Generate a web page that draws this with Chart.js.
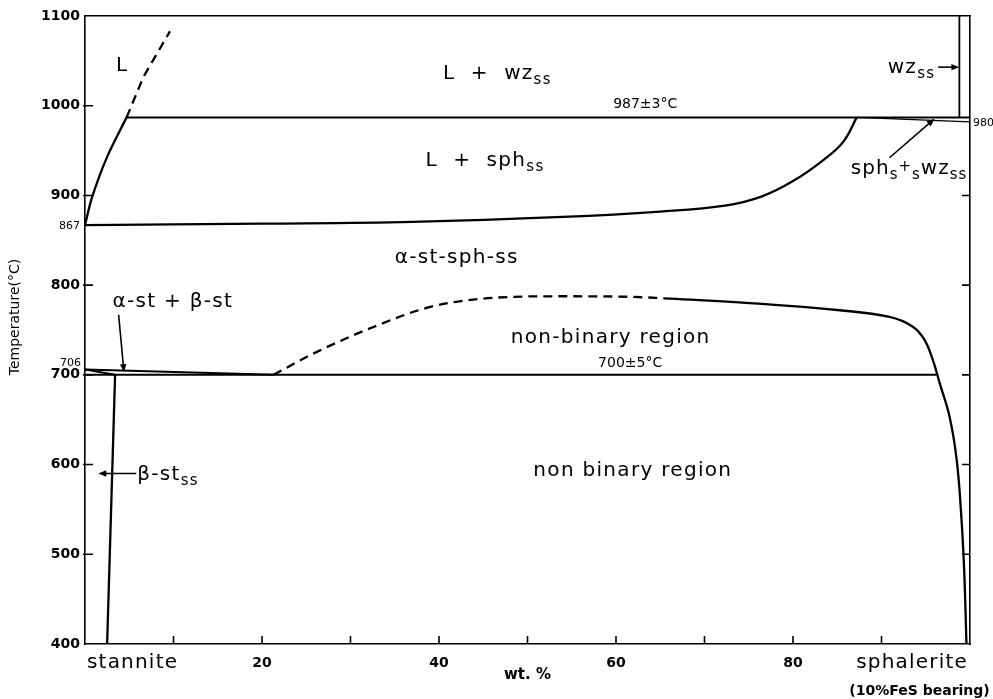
<!DOCTYPE html>
<html>
<head>
<meta charset="utf-8">
<script src="https://cdn.jsdelivr.net/npm/chart.js@4.4.1/dist/chart.umd.min.js"></script>
<style>
  html, body { margin: 0; padding: 0; background: #fff; }
  canvas { display: block; }
</style>
</head>
<body>
<canvas id="phase" width="993" height="699"></canvas>
<script>
/* ── stannite – sphalerite pseudo-binary section ─────────────────────────── */

// axis ranges / ticks
const X_MIN = 0, X_MAX = 100, X_STEP = 10;
const T_MIN = 400, T_MAX = 1100, T_STEP = 100;
const X_LABELLED = [20, 40, 60, 80];

// liquidus on the stannite side (solid, then dashed above the 987 line)
const liquidusX = [0, 0.8, 2.5, 4.7];
const liquidusT = [867, 898, 943, 987];
const liquidusExtX = [4.7, 6.6, 9.6];
const liquidusExtT = [987, 1032, 1083];

// 987 ±3 °C horizontal
const iso987X = [4.7, 100];
const iso987T = [987, 987];

// lower boundary of L + sph_ss
const sphSolidusX = [0, 20, 37, 54, 65, 72.5, 76.5, 80, 83.5, 85.7, 87.2];
const sphSolidusT = [867, 868.5, 870.5, 876, 882, 889, 899, 916, 940, 960, 987];

// wz_ss boundary and sph_ss + wz_ss wedge
const wzBoundX = [98.8, 98.8];
const wzBoundT = [987, 1100];
const sphWzX = [87.2, 100];
const sphWzT = [987, 982];

// alpha-st-sph-ss / non-binary region boundary
const alphaDashX = [21.3, 25.8, 32.6, 39, 45, 54, 61.6, 66.1];
const alphaDashT = [700, 723.7, 753.4, 775.7, 785, 787.6, 787, 785];
const alphaSolidX = [66.1, 75.1, 85.3, 90.9, 93.5, 94.8, 95.75, 96.6, 97.7, 98.5, 99, 99.35, 99.6];
const alphaSolidT = [785, 780, 772, 764.6, 754, 740, 718, 690, 653, 605, 545, 480, 400];

// 700 ±5 °C horizontal and the alpha-st + beta-st wedge
const iso700X = [0, 96.2];
const iso700T = [700, 700];
const abUpperX = [0, 21.3];
const abUpperT = [706, 700];
const abLowerX = [0, 3.4];
const abLowerT = [706, 700];

// beta-st_ss limit
const betaX = [3.4, 2.5];
const betaT = [700, 400];

const FONT = '"DejaVu Sans", sans-serif';

function pts(xs, ts) { return xs.map((v, i) => ({ x: v, y: ts[i] })); }

function line(xs, ts, extra) {
  return Object.assign({
    data: pts(xs, ts), showLine: true, pointRadius: 0, borderColor: "#000",
    borderWidth: 2.3, fill: false, tension: 0, borderCapStyle: "butt"
  }, extra || {});
}

// ── text helpers ─────────────────────────────────────────────────────────────
// parts: [text, kind]  kind: 0 normal, 1 subscript, 2 small raised
function drawParts(ctx, parts, x, y, align, size, spacing) {
  const sub = Math.round(size * 0.75);
  const font = k => (k ? sub : size) + "px " + FONT;
  ctx.letterSpacing = spacing + "px";
  let w = 0;
  parts.forEach(([t, k]) => { ctx.font = font(k); w += ctx.measureText(t).width; });
  let cx = align === "center" ? x - w / 2 : align === "right" ? x - w : x;
  ctx.textAlign = "left";
  ctx.textBaseline = "middle";
  parts.forEach(([t, k]) => {
    ctx.font = font(k);
    const dy = k === 1 ? size * 0.32 : k === 2 ? -size * 0.05 : 0;
    ctx.fillText(t, cx, y + dy);
    cx += ctx.measureText(t).width;
  });
  ctx.letterSpacing = "0px";
}

function arrow(ctx, x1, y1, x2, y2) {
  const a = Math.atan2(y2 - y1, x2 - x1), h = 8, s = 3.2;
  ctx.beginPath();
  ctx.moveTo(x1, y1);
  ctx.lineTo(x2 - Math.cos(a) * h * 0.8, y2 - Math.sin(a) * h * 0.8);
  ctx.stroke();
  ctx.beginPath();
  ctx.moveTo(x2, y2);
  ctx.lineTo(x2 - Math.cos(a) * h + Math.sin(a) * s, y2 - Math.sin(a) * h - Math.cos(a) * s);
  ctx.lineTo(x2 - Math.cos(a) * h - Math.sin(a) * s, y2 - Math.sin(a) * h + Math.cos(a) * s);
  ctx.closePath();
  ctx.fill();
}

const overlay = {
  id: "overlay",
  afterDraw(chart) {
    const { ctx, chartArea: a, scales } = chart;
    const X = v => scales.x.getPixelForValue(v), Y = v => scales.y.getPixelForValue(v);
    ctx.save();
    ctx.fillStyle = "#000";
    ctx.strokeStyle = "#000";

    // inward tick marks
    ctx.lineWidth = 1.6;
    ctx.beginPath();
    scales.y.ticks.forEach(t => {
      if (t.value <= T_MIN || t.value >= T_MAX) return;
      ctx.moveTo(a.left - 2, Y(t.value)); ctx.lineTo(a.left + 8, Y(t.value));
      if (t.value < 1000) { ctx.moveTo(a.right - 8, Y(t.value)); ctx.lineTo(a.right, Y(t.value)); }
    });
    scales.x.ticks.forEach(t => {
      if (t.value <= X_MIN || t.value >= X_MAX) return;
      ctx.moveTo(X(t.value), a.bottom); ctx.lineTo(X(t.value), a.bottom - 8);
    });
    ctx.stroke();

    // arrows
    ctx.lineWidth = 1.6;
    arrow(ctx, X(3.8), Y(767), X(4.4), Y(703));
    arrow(ctx, X(5.8), Y(590), X(1.5), Y(590));
    arrow(ctx, X(96.4), Y(1043), X(98.8), Y(1043));
    arrow(ctx, X(90.9), Y(942), X(96), Y(985.5));

    // field labels
    const big = 20, sp = 1.3;
    drawParts(ctx, [["L", 0]], X(4.2), Y(1044), "center", big, sp);
    drawParts(ctx, [["L  +  wz", 0], ["ss", 1]], X(46.6), Y(1036), "center", big, sp);
    drawParts(ctx, [["wz", 0], ["ss", 1]], X(90.7), Y(1042), "left", big, sp);
    drawParts(ctx, [["L  +  sph", 0], ["ss", 1]], X(45.2), Y(939), "center", big, sp);
    drawParts(ctx, [["sph", 0], ["s", 1], ["+", 2], ["s", 1], ["wz", 0], ["ss", 1]], X(99.7), Y(930), "right", big, 1);
    drawParts(ctx, [["α-st-sph-ss", 0]], X(42), Y(830), "center", big, sp);
    drawParts(ctx, [["α-st + β-st", 0]], X(3.1), Y(781), "left", big, sp);
    drawParts(ctx, [["non-binary region", 0]], X(59.4), Y(741), "center", big, sp);
    drawParts(ctx, [["non binary region", 0]], X(61.9), Y(593.5), "center", big, sp);
    drawParts(ctx, [["β-st", 0], ["ss", 1]], X(5.9), Y(589), "left", big, sp);

    // isotherm labels
    drawParts(ctx, [["987±3°C", 0]], X(63.3), Y(1002), "center", 14, 0);
    drawParts(ctx, [["700±5°C", 0]], X(61.6), Y(713), "center", 14, 0);
    drawParts(ctx, [["867", 0]], a.left - 5, Y(866), "right", 11, 0);
    drawParts(ctx, [["706", 0]], a.left - 4, Y(713), "right", 11, 0);
    drawParts(ctx, [["980", 0]], a.right + 3, Y(981), "left", 11, 0);

    // end-member and axis labels
    drawParts(ctx, [["stannite", 0]], a.left + 2, a.bottom + 19, "left", 20, 1.2);
    drawParts(ctx, [["sphalerite", 0]], a.right - 2, a.bottom + 19, "right", 20, 1.2);
    ctx.font = "bold 15px " + FONT;
    ctx.textAlign = "center";
    ctx.fillText("wt. %", X(50), a.bottom + 31);
    ctx.font = "bold 14px " + FONT;
    ctx.fillText("(10%FeS bearing)", X(94.3), a.bottom + 47);

    ctx.translate(15, 317);
    ctx.rotate(-Math.PI / 2);
    ctx.font = "14px " + FONT;
    ctx.fillText("Temperature(°C)", 0, 0);
    ctx.restore();
  }
};

const ctx = document.getElementById("phase").getContext("2d");
new Chart(ctx, {
  type: "scatter",
  data: {
    datasets: [
      line(liquidusX, liquidusT, { tension: 0.3 }),
      line(liquidusExtX, liquidusExtT, { borderDash: [9, 6] }),
      line(iso987X, iso987T, { borderWidth: 2 }),
      line(sphSolidusX, sphSolidusT, { tension: 0.4 }),
      line(wzBoundX, wzBoundT, { borderWidth: 1.8 }),
      line(sphWzX, sphWzT, { borderWidth: 1.4 }),
      line(alphaDashX, alphaDashT, { borderDash: [9, 6], cubicInterpolationMode: "monotone" }),
      line(alphaSolidX, alphaSolidT, { tension: 0.4 }),
      line(iso700X, iso700T, { borderWidth: 2 }),
      line(abUpperX, abUpperT, { borderWidth: 2 }),
      line(abLowerX, abLowerT, { borderWidth: 2 }),
      line(betaX, betaT)
    ]
  },
  options: {
    responsive: false,
    animation: false,
    devicePixelRatio: 1,
    layout: { padding: 0 },
    plugins: { legend: { display: false }, tooltip: { enabled: false } },
    scales: {
      x: {
        type: "linear", position: "bottom", min: X_MIN, max: X_MAX,
        afterFit: s => { s.height = 55; },
        grid: { display: false, drawTicks: false },
        border: { display: true, color: "#000", width: 1.6 },
        ticks: {
          stepSize: X_STEP, autoSkip: false, padding: 11, color: "#000",
          font: { family: FONT, size: 14, weight: "bold" },
          callback: v => X_LABELLED.includes(v) ? String(v) : ""
        }
      },
      y: {
        type: "linear", position: "left", min: T_MIN, max: T_MAX,
        afterFit: s => { s.width = 85; },
        grid: { display: false, drawTicks: false },
        border: { display: true, color: "#000", width: 1.6 },
        ticks: {
          stepSize: T_STEP, padding: 5, color: "#000",
          font: { family: FONT, size: 14, weight: "bold" },
          callback: v => String(v)
        }
      },
      y2: {
        type: "linear", position: "right", min: T_MIN, max: T_MAX,
        afterFit: s => { s.width = 23; },
        grid: { display: false, drawTicks: false },
        border: { display: true, color: "#000", width: 1.6 },
        ticks: { display: false }
      },
      x2: {
        type: "linear", position: "top", min: X_MIN, max: X_MAX,
        afterFit: s => { s.height = 16; },
        grid: { display: false, drawTicks: false },
        border: { display: true, color: "#000", width: 1.6 },
        ticks: { display: false }
      }
    }
  },
  plugins: [overlay]
});
</script>
</body>
</html>
